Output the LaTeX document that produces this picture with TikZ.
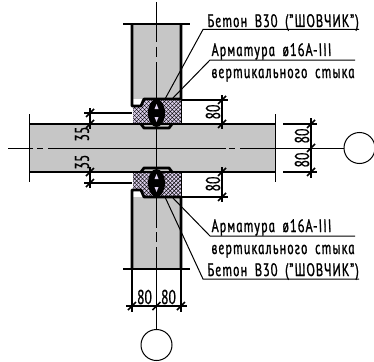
\documentclass[tikz,border=0pt]{standalone}
\usepackage{fontspec}
\setmainfont[ItalicFeatures={FakeSlant=-0.18,FakeStretch=0.71,FakeBold=1.2},LetterSpace=6,WordSpace=1.7]{PT Sans}
\usetikzlibrary{patterns.meta}
\definecolor{concrete}{HTML}{C6C6C6}
\definecolor{grout}{HTML}{DCD0EC}
\tikzset{thin line/.style={black,line width=1pt},
  wall/.style={black,line width=2.8pt,line join=round},
  axis/.style={black,line width=0.9pt},
  ext/.style={black,line width=1.1pt},
  dimtxt/.style={inner sep=0pt,font=\fontsize{20}{20}\selectfont\addfontfeature{FakeStretch=0.68,LetterSpace=0,FakeBold=0.6}},
  note/.style={inner sep=0pt,anchor=base west,font=\fontsize{18}{18}\selectfont\itshape},
  dimtick/.pic={\draw[black,line width=1.5pt] (-4,4) -- (4,-4);}}

\begin{document}
\begin{tikzpicture}[x=1pt,y=-1pt]
   \useasboundingbox (0,0) rectangle (374,361);
   % concrete
   \fill[concrete] (132,24) rectangle (181,99);
   \fill[concrete] (29,124) rectangle (275,172);
   \fill[concrete] (132,197) rectangle (181,269);
   % joint above the band
   \begin{scope}
    \fill[grout] (133,106) -- (141,106) -- (144,99) -- (181,99) -- (181,124) -- (133,124) -- cycle;
    \fill[pattern={Lines[angle=45,distance=2.8pt,line width=0.45pt]}] (133,106) -- (141,106) -- (144,99) -- (181,99) -- (181,124) -- (133,124) -- cycle;
    \fill[pattern={Lines[angle=-45,distance=2.8pt,line width=0.45pt]}] (133,106) -- (141,106) -- (144,99) -- (181,99) -- (181,124) -- (133,124) -- cycle;
    \fill[black] (156.5,113) ellipse (8.5 and 14);
    \fill[grout] (156.5,104) -- (158.5,109) -- (154.5,109) -- cycle;
    \fill[grout] (156.5,122) -- (158.5,117) -- (154.5,117) -- cycle;
    \draw[wall] (132,24) -- (132,106) -- (141,106) -- (144,99) -- (181,99) -- (181,24);
    \draw[wall] (141,124) -- (144,128) -- (169,128) -- (172,124);
    \draw[thin line] (181,99) -- (181,124);
   \end{scope}
   % joint below the band
   \begin{scope}[shift={(0,296)},yscale=-1]
    \fill[grout] (133,106) -- (141,106) -- (144,99) -- (181,99) -- (181,124) -- (133,124) -- cycle;
    \fill[pattern={Lines[angle=45,distance=2.8pt,line width=0.45pt]}] (133,106) -- (141,106) -- (144,99) -- (181,99) -- (181,124) -- (133,124) -- cycle;
    \fill[pattern={Lines[angle=-45,distance=2.8pt,line width=0.45pt]}] (133,106) -- (141,106) -- (144,99) -- (181,99) -- (181,124) -- (133,124) -- cycle;
    \fill[black] (156.5,113) ellipse (8.5 and 14);
    \fill[grout] (156.5,104) -- (158.5,109) -- (154.5,109) -- cycle;
    \fill[grout] (156.5,122) -- (158.5,117) -- (154.5,117) -- cycle;
    \draw[wall] (132,27) -- (132,106) -- (141,106) -- (144,99) -- (181,99) -- (181,27);
    \draw[wall] (141,124) -- (144,128) -- (169,128) -- (172,124);
    \draw[thin line] (181,99) -- (181,124);
   \end{scope}
   % band and ends
   \draw[wall] (29,124) -- (275,124);
   \draw[wall] (29,172) -- (275,172);
   \draw[thin line] (29,114) -- (29,182);
   \draw[thin line] (275,114) -- (275,182);
   \draw[wall,line width=1.4pt] (123,24) -- (190,24);
   \draw[wall,line width=1.4pt] (123,269) -- (190,269);
   % axes
   \node[draw,thin line,circle,minimum size=31pt,inner sep=0pt] (axisr) at (359.5,148) {};
   \node[draw,thin line,circle,minimum size=31pt,inner sep=0pt] (axisb) at (156.5,345) {};
   \draw[axis] (8,148) -- (33,148);
   \draw[axis] (37,148) -- (43,148);
   \draw[axis] (48,148) -- (226,148);
   \draw[axis] (229,148) -- (235,148);
   \draw[axis] (240,148) -- (axisr);
   \draw[axis] (156.5,2) -- (156.5,42);
   \draw[axis] (156.5,47) -- (156.5,57);
   \draw[axis] (156.5,62) -- (156.5,100);
   \draw[axis] (156.5,128) -- (156.5,168);
   \draw[axis] (156.5,197) -- (156.5,228);
   \draw[axis] (156.5,232) -- (156.5,242);
   \draw[axis] (156.5,247) -- (axisb);
   % dimensions, left
   \draw[ext] (84,113) -- (132,113);
   \draw[ext] (84,183) -- (132,183);
   \draw[ext] (90,108) -- (90,129);
   \draw[ext] (90,167) -- (90,188);
   \pic at (90,113) {dimtick};
   \pic at (90,124) {dimtick};
   \pic at (90,172) {dimtick};
   \pic at (90,183) {dimtick};
   \node[dimtxt,rotate=90] (dimla) at (82,134) {35};
   \node[dimtxt,rotate=90] (dimlb) at (82,162) {35};
   % dimensions, right of the joints
   \draw[ext] (181,100) -- (228,100);
   \draw[ext] (181,197) -- (228,197);
   \draw[ext] (222,95) -- (222,129);
   \draw[ext] (222,167) -- (222,202);
   \pic at (222,100) {dimtick};
   \pic at (222,124) {dimtick};
   \pic at (222,172) {dimtick};
   \pic at (222,197) {dimtick};
   \node[dimtxt,rotate=90] (dimja) at (213,112) {80};
   \node[dimtxt,rotate=90] (dimjb) at (213,184) {80};
   % dimensions, band
   \draw[ext] (283,124) -- (317,124);
   \draw[ext] (283,172) -- (317,172);
   \draw[ext] (311,118) -- (311,178);
   \pic at (311,124) {dimtick};
   \pic at (311,148) {dimtick};
   \pic at (311,172) {dimtick};
   \node[dimtxt,rotate=90] (dimba) at (302,136) {80};
   \node[dimtxt,rotate=90] (dimbb) at (302,160) {80};
   % dimensions, column
   \draw[ext] (132,269) -- (132,312);
   \draw[ext] (181,269) -- (181,312);
   \draw[ext] (126,306) -- (187,306);
   \pic at (132,306) {dimtick};
   \pic at (156.5,306) {dimtick};
   \pic at (181,306) {dimtick};
   \node[dimtxt] (dimca) at (144.5,297) {80};
   \node[dimtxt] (dimcb) at (168.5,297) {80};
   % notes
   \node[note] (betona) at (208,27) {Бетон В30 ("ШОВЧИК")};
   \node[note] (arma) at (212,56) {Арматура ø16А-III};
   \node[note] (styka) at (212,78) {вертикального стыка};
   \node[note] (armb) at (212,232) {Арматура ø16А-III};
   \node[note] (stykb) at (212,254) {вертикального стыка};
   \node[note] (betonb) at (208,276) {Бетон В30 ("ШОВЧИК")};
   \draw[thin line] (165,99) -- (203,29.5) -- (359,29.5);
   \draw[thin line] (172,99) -- (210,60) -- (355,60);
   \draw[thin line] (172,197) -- (210,236) -- (355,236);
   \draw[thin line] (165,197) -- (203,279) -- (359,279);
  \end{tikzpicture}
\end{document}
